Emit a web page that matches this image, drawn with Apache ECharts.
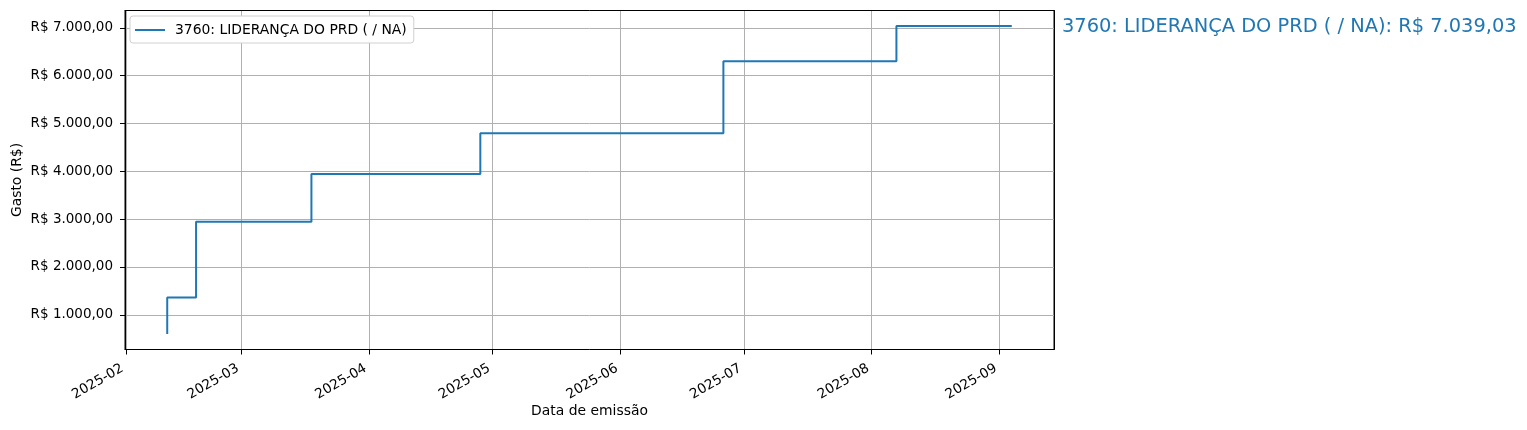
<!DOCTYPE html>
<html><head><meta charset="utf-8">
<script src="https://cdn.jsdelivr.net/npm/echarts@6/dist/echarts.min.js"></script>
<style>html,body{margin:0;padding:0;background:#fff}#c{width:1527px;height:430px}</style>
</head><body><div id="c"></div>
<script>
// ---- data ----
const seriesName = '3760: LIDERANÇA DO PRD ( / NA)';
const dates = ['2025-02-11','2025-02-18','2025-03-18','2025-04-28','2025-06-26','2025-08-07','2025-09-04'];
const cumulative = [596, 1360, 2944, 3945, 4795, 6298, 7039.03];
const xAxisTitle = 'Data de emissão';
const yAxisTitle = 'Gasto (R$)';

// ---- helpers ----
const FONT = 'DejaVu Sans';
const FS = 13.9;
function brl(v, dec) {
  const neg = v < 0; v = Math.abs(v);
  const s = v.toFixed(dec);
  let [ip, fp] = s.split('.');
  ip = ip.replace(/\B(?=(\d{3})+(?!\d))/g, '.');
  return (neg ? '-' : '') + 'R$ ' + ip + (fp ? ',' + fp : '');
}
function pad(n){ return (n < 10 ? '0' : '') + n; }
const ts = dates.map(d => { const [y,m,dd] = d.split('-').map(Number); return new Date(y, m-1, dd).getTime(); });
const xr = ts[ts.length-1] - ts[0];
const xMin = ts[0] - 0.05*xr, xMax = ts[ts.length-1] + 0.05*xr;
const yLo = Math.min(...cumulative), yHi = Math.max(...cumulative);
const yr = yHi - yLo;
const yMin = yLo - 0.05*yr, yMax = yHi + 0.05*yr;
const DAY = 86400000;

const spine = { show: true, lineStyle: { color: '#000', width: 1 } };
const chart = echarts.init(document.getElementById('c'), null, {renderer: 'canvas'});
const option = {
  animation: false,
  backgroundColor: '#fff',
  textStyle: { fontFamily: FONT },
  grid: { left: 125, right: 473, top: 10.5, bottom: 80.5, containLabel: false, outerBoundsMode: 'none',
          show: true, borderColor: '#000', borderWidth: 1, backgroundColor: 'transparent' },
  legend: {
    left: 130, top: 16,
    padding: [7, 7, 6, 5],
    backgroundColor: '#fff', borderColor: '#d0d0d0', borderWidth: 1, borderRadius: 3,
    itemWidth: 30, itemHeight: 2, itemGap: 10,
    textStyle: { fontFamily: FONT, fontSize: FS, color: '#000', padding: [0,0,0,5] },
    data: [{ name: seriesName, icon: 'rect' }]
  },
  xAxis: [{
    type: 'time', min: xMin, max: xMax,
    minInterval: 28*DAY, maxInterval: 31*DAY,
    name: xAxisTitle, nameLocation: 'middle', nameGap: 55, nameMoveOverlap: false,
    nameTextStyle: { fontFamily: FONT, fontSize: FS, color: '#000' },
    axisLine: spine,
    axisTick: { show: true, length: 5, lineStyle: { color: '#000', width: 1 } },
    axisLabel: {
      rotate: 30, margin: 24, color: '#000', fontFamily: FONT, fontSize: 13.6,
      align: 'right', verticalAlign: 'bottom',
      showMinLabel: false, showMaxLabel: false, hideOverlap: false,
      formatter: v => { const d = new Date(v); return d.getFullYear() + '-' + pad(d.getMonth()+1); }
    },
    splitLine: { show: true, lineStyle: { color: '#b0b0b0', width: 1 } }
  }, {
    type: 'time', position: 'top', min: xMin, max: xMax,
    axisLine: spine, axisTick: { show: false }, axisLabel: { show: false }, splitLine: { show: false }
  }],
  yAxis: [{
    type: 'value', min: yMin, max: yMax, splitNumber: 7,
    name: yAxisTitle, nameLocation: 'middle', nameGap: 101, nameMoveOverlap: false,
    nameTextStyle: { fontFamily: FONT, fontSize: FS, color: '#000' },
    axisLine: spine,
    axisTick: { show: true, length: 5, lineStyle: { color: '#000', width: 1 } },
    axisLabel: {
      margin: 12, color: '#000', fontFamily: FONT, fontSize: 13.5,
      showMinLabel: false, showMaxLabel: false,
      formatter: v => brl(v, 2)
    },
    splitLine: { show: true, lineStyle: { color: '#b0b0b0', width: 1 } }
  }, {
    type: 'value', position: 'right', min: yMin, max: yMax,
    axisLine: spine, axisTick: { show: false }, axisLabel: { show: false }, splitLine: { show: false }
  }],
  series: [{
    name: seriesName, type: 'line', step: 'start',
    data: ts.map((t, i) => [t, cumulative[i]]),
    showSymbol: false, symbol: 'none',
    lineStyle: { color: '#1f77b4', width: 2 },
    itemStyle: { color: '#1f77b4' }
  }]
};
chart.setOption(option);
const lastY = chart.convertToPixel({ yAxisIndex: 0 }, cumulative[cumulative.length-1]);
chart.setOption({
  graphic: [{
    type: 'text', x: 1062, y: lastY + 1,
    style: { text: seriesName + ': ' + brl(cumulative[cumulative.length-1], 2), fill: '#1f77b4',
             font: '19.4px "DejaVu Sans"', verticalAlign: 'middle', align: 'left' }
  }]
});
</script></body></html>
